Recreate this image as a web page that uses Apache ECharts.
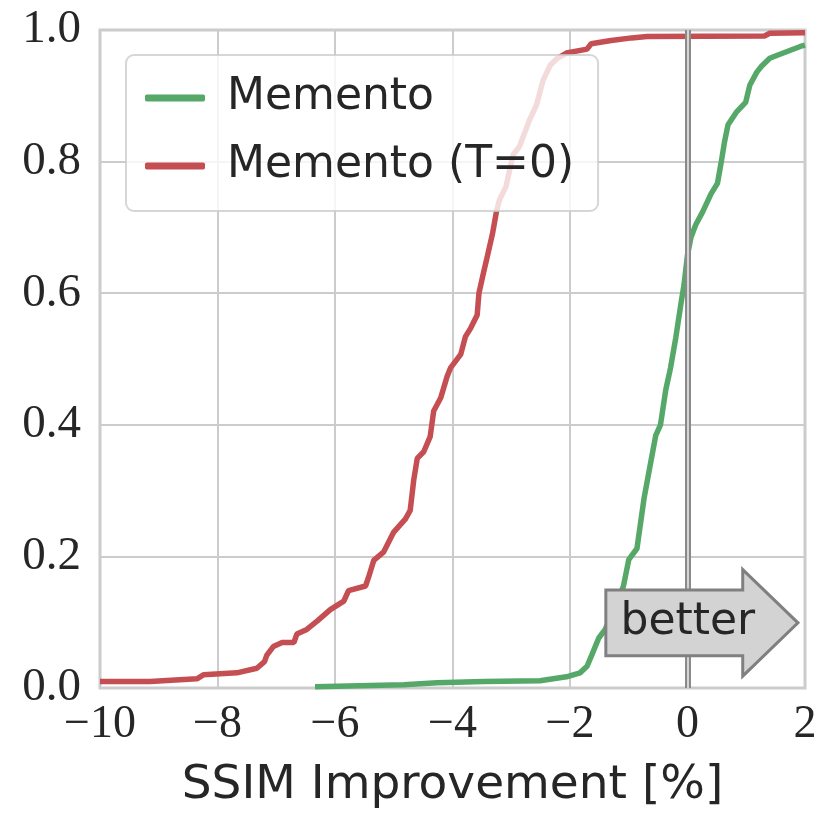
<!DOCTYPE html>
<html>
<head>
<meta charset="utf-8">
<script src="https://cdn.jsdelivr.net/npm/echarts@6/dist/echarts.min.js"></script>
<style>
  html, body { margin: 0; padding: 0; background: #fff; }
  #chart { width: 832px; height: 831px; }
</style>
</head>
<body>
<div id="chart"></div>
<script>
// CDF of SSIM improvement
var seriesNames = ['Memento', 'Memento (T=0)'];

var greenX = [-6.34, -4.83, -4.26, -3.47, -2.51, -2.06, -1.83, -1.71, -1.63, -1.57, -1.51, -1.40, -1.30, -1.20,
  -1.09, -1.00, -0.86, -0.74, -0.63, -0.54, -0.46, -0.37, -0.29, -0.20, -0.11, -0.06, 0.00, 0.06, 0.14,
  0.26, 0.40, 0.51, 0.57, 0.63, 0.69, 0.84, 0.99, 1.06, 1.18, 1.26, 1.40, 1.54, 1.92, 2.00];
var greenY = [0.002, 0.005, 0.008, 0.010, 0.011, 0.017, 0.023, 0.033, 0.050, 0.063, 0.076, 0.089, 0.110, 0.130,
  0.155, 0.195, 0.212, 0.288, 0.341, 0.384, 0.400, 0.453, 0.486, 0.532, 0.585, 0.612, 0.658, 0.685, 0.704,
  0.724, 0.751, 0.767, 0.797, 0.830, 0.856, 0.876, 0.890, 0.916, 0.936, 0.945, 0.957, 0.962, 0.975, 0.977];

var redX = [-10.0, -9.15, -8.35, -8.24, -7.67, -7.33, -7.20, -7.16, -7.05, -6.90, -6.70, -6.65, -6.48, -6.30,
  -6.08, -5.85, -5.77, -5.48, -5.43, -5.34, -5.17, -5.00, -4.80, -4.72, -4.66, -4.60, -4.49, -4.38, -4.32,
  -4.20, -4.09, -4.03, -3.86, -3.78, -3.69, -3.58, -3.55, -3.47, -3.41, -3.32, -3.25, -3.20, -3.09, -2.97,
  -2.86, -2.69, -2.57, -2.46, -2.34, -2.23, -2.06, -1.71, -1.64, -1.30, -0.95, -0.69, 1.31, 1.40, 2.00];
var redY = [0.010, 0.010, 0.014, 0.020, 0.023, 0.030, 0.040, 0.050, 0.063, 0.069, 0.069, 0.082, 0.089, 0.102,
  0.119, 0.132, 0.148, 0.155, 0.168, 0.194, 0.207, 0.237, 0.257, 0.270, 0.316, 0.349, 0.359, 0.382, 0.421,
  0.441, 0.474, 0.487, 0.507, 0.534, 0.547, 0.567, 0.600, 0.632, 0.655, 0.690, 0.725, 0.742, 0.762, 0.810,
  0.823, 0.863, 0.886, 0.923, 0.946, 0.956, 0.965, 0.971, 0.979, 0.984, 0.988, 0.990, 0.991, 0.995, 0.996];

// "better" arrow, in data units
var arrowLeft = -1.39, arrowNeck = 0.94, arrowTip = 1.88;
var arrowMid = 0.099, arrowBody = 0.05, arrowHead = 0.081;

function zip(xs, ys) {
  return xs.map(function(x, i) { return [x, ys[i]]; });
}

function fmtMinus(v) {
  return v < 0 ? '\u2212' + Math.abs(v) : String(v);
}

var chart = echarts.init(document.getElementById('chart'), null, { renderer: 'canvas' });

chart.setOption({
  animation: false,
  backgroundColor: '#fff',
  grid: {
    left: 100, right: 27, top: 30, bottom: 143,
    show: true, borderColor: '#cccccc', borderWidth: 3, backgroundColor: 'transparent'
  },
  legend: {
    data: seriesNames,
    orient: 'vertical',
    left: 126, top: 55,
    padding: [21, 24, 23, 19],
    itemGap: 24,
    itemWidth: 60, itemHeight: 7,
    icon: 'roundRect',
    backgroundColor: 'rgba(255,255,255,0.8)',
    borderColor: 'rgba(204,204,204,0.8)',
    borderWidth: 2,
    borderRadius: 8,
    textStyle: { fontFamily: 'DejaVu Sans', fontSize: 44, color: '#262626', padding: [0, 0, 0, 17] }
  },
  xAxis: {
    type: 'value', min: -10, max: 2, interval: 2,
    name: 'SSIM Improvement [%]',
    nameLocation: 'middle', nameGap: 74,
    nameTextStyle: { fontFamily: 'DejaVu Sans', fontSize: 47, color: '#262626' },
    axisLine: { show: false }, axisTick: { show: false },
    axisLabel: {
      formatter: fmtMinus, margin: 14,
      fontFamily: 'Liberation Serif', fontSize: 46, color: '#262626'
    },
    splitLine: { lineStyle: { color: '#cccccc', width: 2 } }
  },
  yAxis: {
    type: 'value', min: 0, max: 1, interval: 0.2,
    axisLine: { show: false }, axisTick: { show: false },
    axisLabel: {
      formatter: function(v) { return v.toFixed(1); }, margin: 19,
      fontFamily: 'Liberation Serif', fontSize: 47, color: '#262626'
    },
    splitLine: { lineStyle: { color: '#cccccc', width: 2 } }
  },
  series: [
    {
      type: 'line', data: [], silent: true, z: 1,
      markLine: {
        silent: true, symbol: 'none', label: { show: false },
        data: [
          { xAxis: 0, lineStyle: { color: '#8a8a8a', width: 6, type: 'solid' } },
          { xAxis: 0, lineStyle: { color: '#d4d4d4', width: 2, type: 'solid' } }
        ]
      }
    },
    {
      name: seriesNames[0], type: 'line', data: zip(greenX, greenY),
      showSymbol: false, z: 3,
      color: '#55a868', lineStyle: { width: 5.5, color: '#55a868' }
    },
    {
      name: seriesNames[1], type: 'line', data: zip(redX, redY),
      showSymbol: false, z: 3,
      color: '#c44e52', lineStyle: { width: 5.5, color: '#c44e52' }
    }
  ]
});

function px(x, y) {
  return chart.convertToPixel({ gridIndex: 0 }, [x, y]);
}

var arrowPts = [
  px(arrowLeft, arrowMid + arrowBody),
  px(arrowNeck, arrowMid + arrowBody),
  px(arrowNeck, arrowMid + arrowHead),
  px(arrowTip, arrowMid),
  px(arrowNeck, arrowMid - arrowHead),
  px(arrowNeck, arrowMid - arrowBody),
  px(arrowLeft, arrowMid - arrowBody)
];
var textPos = px((arrowLeft + arrowNeck) / 2 + 0.23, arrowMid);

chart.setOption({
  graphic: [
    {
      type: 'polygon', z: 10,
      shape: { points: arrowPts },
      style: { fill: '#d3d3d3', stroke: '#808080', lineWidth: 3 }
    },
    {
      type: 'text', z: 11,
      x: textPos[0], y: textPos[1],
      style: {
        text: 'better', fill: '#262626',
        font: '44px "DejaVu Sans"', align: 'center', verticalAlign: 'middle'
      }
    }
  ]
});
</script>
</body>
</html>
